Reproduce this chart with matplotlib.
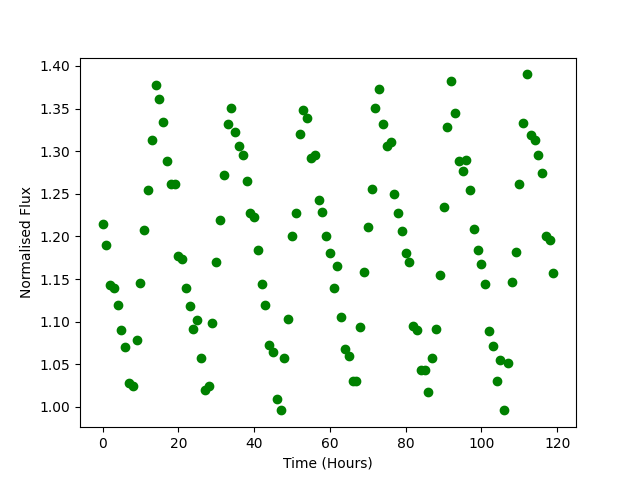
import matplotlib
matplotlib.use("Agg")
import matplotlib.pyplot as plt
import numpy as np

hours = np.arange(120)
flux = [1.215, 1.19, 1.143, 1.14, 1.12, 1.09, 1.07, 1.028, 1.025, 1.079,
        1.145, 1.207, 1.255, 1.313, 1.378, 1.361, 1.334, 1.288, 1.262, 1.262,
        1.177, 1.174, 1.139, 1.118, 1.091, 1.102, 1.058, 1.02, 1.025, 1.099,
        1.17, 1.219, 1.272, 1.332, 1.351, 1.323, 1.306, 1.295, 1.265, 1.227,
        1.223, 1.184, 1.144, 1.12, 1.073, 1.064, 1.009, 0.997, 1.058, 1.103,
        1.2, 1.228, 1.32, 1.348, 1.339, 1.292, 1.295, 1.243, 1.229, 1.2,
        1.18, 1.139, 1.165, 1.106, 1.068, 1.06, 1.03, 1.03, 1.094, 1.158,
        1.211, 1.256, 1.351, 1.373, 1.332, 1.306, 1.311, 1.25, 1.228, 1.206,
        1.181, 1.17, 1.095, 1.09, 1.043, 1.043, 1.017, 1.057, 1.091, 1.155,
        1.234, 1.328, 1.382, 1.345, 1.289, 1.277, 1.29, 1.254, 1.209, 1.184,
        1.168, 1.144, 1.089, 1.071, 1.03, 1.055, 0.996, 1.051, 1.147, 1.182,
        1.261, 1.333, 1.39, 1.319, 1.313, 1.295, 1.274, 1.2, 1.196, 1.157]

fig, ax = plt.subplots(figsize=(6.4, 4.8), dpi=100)
ax.plot(hours, flux, 'o', color='green')
ax.set_xlabel('Time (Hours)')
ax.set_ylabel('Normalised Flux')
fig.savefig('out.png')
